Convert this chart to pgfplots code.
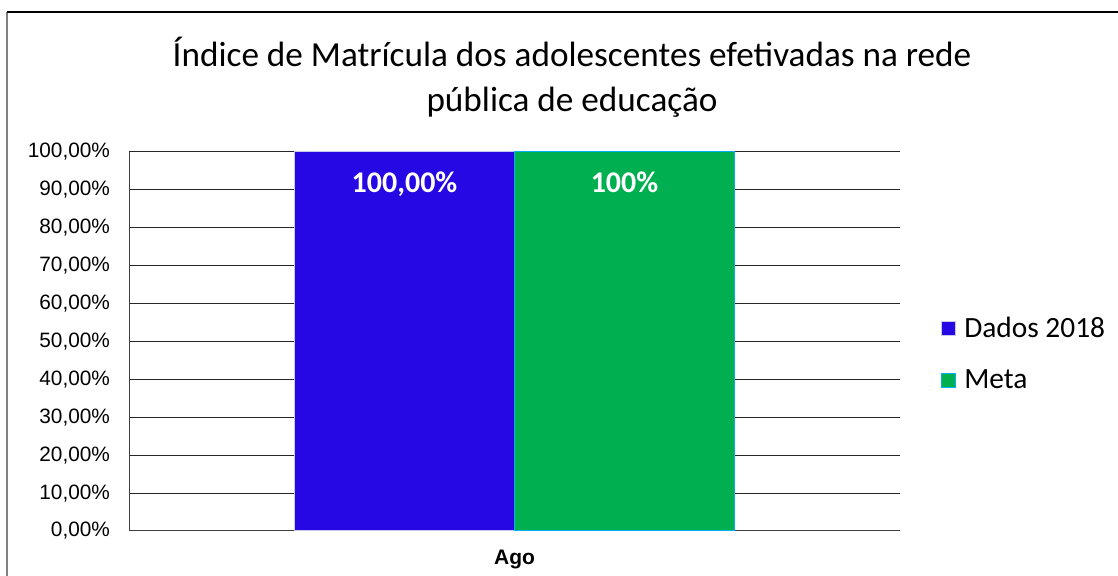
\documentclass[border=0pt]{standalone}
\usepackage{pgfplots}
\pgfplotsset{compat=1.18}
\usepackage{fontspec}
\setmainfont{Carlito}
\newfontfamily\arial{Liberation Sans}
\definecolor{barblue}{RGB}{37,8,227}
\definecolor{bargreen}{RGB}{0,176,80}
\definecolor{bluebord}{RGB}{200,200,235}
\definecolor{greenbord}{RGB}{0,176,240}
\begin{document}
\begin{tikzpicture}[x=1pt,y=1pt]
\useasboundingbox (0,0) rectangle (559,288);
\draw[line width=0.6pt, gray] (3.5,0) -- (3.5,282);
\draw[line width=0.6pt, black] (3.5,282) -- (559,282);
\node[anchor=base, font=\fontsize{17.6}{20}\selectfont] at (286,254.5) {Índice de Matrícula dos adolescentes efetivadas na rede};
\node[anchor=base, font=\fontsize{17.6}{20}\selectfont] at (286,232) {pública de educação};
\begin{axis}[
  at={(64.5pt,22.5pt)}, anchor=south west,
  scale only axis, width=385.5pt, height=189.5pt,
  ybar=0pt, bar width=110pt,
  xmin=-1, xmax=1, ymin=0, ymax=100,
  enlargelimits=false,
  axis x line*=bottom, axis y line*=left,
  axis line style={line width=0.5pt, black!75},
  xtick={0}, xticklabels={\textbf{Ago}},
  xticklabel style={font=\arial\fontsize{10.5}{12}\selectfont, yshift=-6pt},
  ytick={0,10,...,100},
  yticklabels={{0,00\%},{10,00\%},{20,00\%},{30,00\%},{40,00\%},{50,00\%},{60,00\%},{70,00\%},{80,00\%},{90,00\%},{100,00\%}},
  yticklabel style={font=\arial\fontsize{10.4}{12}\selectfont, xshift=-6pt},
  major tick length=0pt,
  ymajorgrids, grid style={line width=0.5pt, black!85},
  legend style={draw=none, at={(1.053,0.467)}, anchor=west,
    font=\fontsize{14.7}{17}\selectfont, row sep=10.5pt, column sep=2pt,
    cells={anchor=west}, inner sep=0pt},
  legend image code/.code={\draw[#1, line width=0.5pt] (0pt,-3.5pt) rectangle (7pt,3.5pt);},
  nodes near coords style={anchor=north, yshift=-6.5pt, font=\bfseries\fontsize{15}{17}\selectfont, text=white},
]
\addplot[fill=barblue, draw=bluebord, line width=0.5pt, nodes near coords={100,00\%}] coordinates {(0,100)};
\addplot[fill=bargreen, draw=greenbord, line width=0.5pt, nodes near coords={100\%}] coordinates {(0,100)};
\legend{Dados 2018, Meta}
\end{axis}
\end{tikzpicture}
\end{document}
